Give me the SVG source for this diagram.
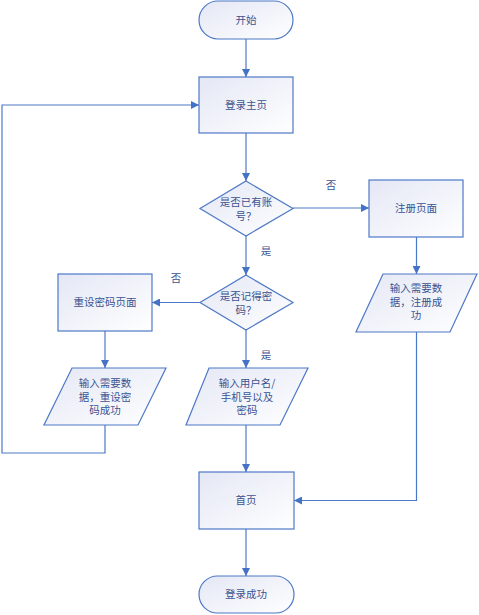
<svg xmlns="http://www.w3.org/2000/svg" width="479" height="615" viewBox="0 0 479 615">
<defs>
<linearGradient id="g" x1="0" y1="0" x2="1" y2="1">
<stop offset="0" stop-color="#e4e7f5"/>
<stop offset="1" stop-color="#ffffff"/>
</linearGradient>
<marker id="arr" viewBox="0 0 10 10" refX="10" refY="5" markerWidth="8" markerHeight="8" markerUnits="userSpaceOnUse" orient="auto">
<path d="M0,0 L10,5 L0,10 Z" fill="#4472c4"/>
</marker>
<style>
.n{fill:url(#g);stroke:#4d78c6;stroke-width:1.2}
.t{font-family:"Noto Sans CJK SC","Liberation Sans",sans-serif;font-size:10.5px;fill:#3b5390;text-anchor:middle}
.c{fill:none;stroke:#4d78c6;stroke-width:1.2;marker-end:url(#arr)}
</style>
</defs>
<rect width="479" height="615" fill="#ffffff"/>
<g id="connectors">
<path class="c" d="M246,39 V77"/>
<path class="c" d="M246,133 V181"/>
<path class="c" d="M293,208 H369"/>
<path class="c" d="M246,236 V275"/>
<path class="c" d="M416.5,237 V274"/>
<path class="c" d="M200,302.5 H152"/>
<path class="c" d="M105,331 V368"/>
<path class="c" d="M246,330 V368"/>
<path class="c" d="M246,425 V472"/>
<path class="c" d="M246,529 V576"/>
<path class="c" d="M416.5,332 V500.5 H294"/>
<path class="c" d="M105,425 V453 H2 V105 H199"/>
<text class="t" x="331" y="189">否</text>
<text class="t" x="266" y="255">是</text>
<text class="t" x="176" y="282">否</text>
<text class="t" x="266" y="359">是</text>
</g>
<g id="start">
<rect class="n" x="199" y="1" width="94" height="38" rx="19"/>
<text class="t" x="246" y="24">开始</text>
</g>
<g id="login">
<rect class="n" x="199" y="77" width="94" height="56"/>
<text class="t" x="246" y="109">登录主页</text>
</g>
<g id="hasAccount">
<polygon class="n" points="246,181 293,208.5 246,236 200,208.5"/>
<text class="t" x="246" y="206">是否已有账<tspan x="246" dy="14">号？</tspan></text>
</g>
<g id="register">
<rect class="n" x="369" y="180" width="94" height="57"/>
<text class="t" x="416" y="212">注册页面</text>
</g>
<g id="registerInput">
<polygon class="n" points="383,274 477,274 450,332 356,332"/>
<text class="t" x="416" y="292">输入需要数<tspan x="416" dy="13.5">据，注册成</tspan><tspan x="416" dy="13.5">功</tspan></text>
</g>
<g id="rememberPwd">
<polygon class="n" points="246,275 293,302.5 246,330 200,302.5"/>
<text class="t" x="246" y="300">是否记得密<tspan x="246" dy="14">码？</tspan></text>
</g>
<g id="resetPage">
<rect class="n" x="58" y="274" width="94" height="57"/>
<text class="t" x="105" y="306">重设密码页面</text>
</g>
<g id="resetInput">
<polygon class="n" points="72,368 166,368 138,425 44,425"/>
<text class="t" x="105" y="387">输入需要数<tspan x="105" dy="13.5">据，重设密</tspan><tspan x="105" dy="13.5">码成功</tspan></text>
</g>
<g id="loginInput">
<polygon class="n" points="209,368 308,368 280,425 186,425"/>
<text class="t" x="247" y="387">输入用户名/<tspan x="247" dy="13.5">手机号以及</tspan><tspan x="247" dy="13.5">密码</tspan></text>
</g>
<g id="home">
<rect class="n" x="199" y="472" width="95" height="57"/>
<text class="t" x="246" y="504">首页</text>
</g>
<g id="success">
<rect class="n" x="199" y="576" width="95" height="37" rx="18.5"/>
<text class="t" x="246" y="598">登录成功</text>
</g>
</svg>
